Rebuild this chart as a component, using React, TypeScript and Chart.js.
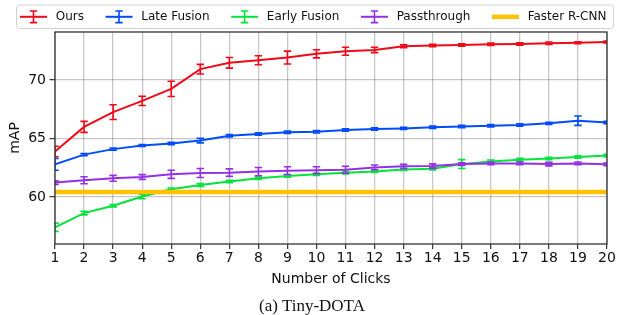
import React, { useEffect, useRef } from 'react';
import { Chart, registerables } from 'chart.js';

Chart.register(...registerables);

const clicks = [1, 2, 3, 4, 5, 6, 7, 8, 9, 10, 11, 12, 13, 14, 15, 16, 17, 18, 19, 20];

const ours = [63.9, 66.0, 67.26, 68.22, 69.24, 70.93, 71.47, 71.69, 71.92, 72.24, 72.46, 72.57, 72.88, 72.94, 72.99, 73.05, 73.08, 73.14, 73.19, 73.25];
const oursErr = [0.45, 0.47, 0.63, 0.4, 0.65, 0.41, 0.45, 0.38, 0.55, 0.35, 0.34, 0.23, 0.12, 0.1, 0.1, 0.1, 0.1, 0.1, 0.08, 0.08];

const lateFusion = [62.8, 63.63, 64.1, 64.41, 64.58, 64.83, 65.25, 65.39, 65.54, 65.58, 65.73, 65.82, 65.87, 65.96, 66.04, 66.1, 66.16, 66.3, 66.53, 66.38];
const lateErr = [0.5, 0.1, 0.1, 0.08, 0.1, 0.2, 0.1, 0.1, 0.1, 0.1, 0.1, 0.1, 0.1, 0.1, 0.1, 0.1, 0.1, 0.1, 0.4, 0.1];

const earlyFusion = [57.43, 58.64, 59.27, 60.06, 60.68, 61.04, 61.33, 61.61, 61.81, 61.95, 62.09, 62.2, 62.37, 62.43, 62.82, 63.05, 63.19, 63.3, 63.42, 63.56];
const earlyErr = [0.35, 0.15, 0.1, 0.2, 0.1, 0.12, 0.1, 0.1, 0.1, 0.1, 0.1, 0.1, 0.1, 0.1, 0.38, 0.12, 0.12, 0.1, 0.1, 0.1];

const passthrough = [61.24, 61.44, 61.61, 61.72, 61.95, 62.06, 62.09, 62.18, 62.26, 62.3, 62.34, 62.54, 62.63, 62.66, 62.82, 62.88, 62.88, 62.82, 62.88, 62.8];
const passErr = [0.15, 0.3, 0.25, 0.2, 0.35, 0.38, 0.32, 0.35, 0.33, 0.3, 0.3, 0.2, 0.18, 0.18, 0.12, 0.12, 0.12, 0.15, 0.12, 0.12];

const baseline = 60.45;

const seriesLabels = ['Ours', 'Late Fusion', 'Early Fusion', 'Passthrough', 'Faster R-CNN'];
const seriesColors = ['rgb(240,10,25)', 'rgb(0,75,255)', 'rgb(0,228,60)', 'rgb(148,48,230)', 'rgb(255,194,0)'];

const FONT = "'DejaVu Sans', sans-serif";

const errorBarPlugin = {
  id: 'errorBars',
  afterDatasetDraw(chart: any, args: any) {
    const ds = chart.data.datasets[args.index] as any;
    if (!ds.errors) return;
    const ctx = chart.ctx;
    const xs = chart.scales.x;
    const ys = chart.scales.y;
    const a = chart.chartArea;
    ctx.save();
    ctx.beginPath();
    ctx.rect(a.left, a.top, a.right - a.left, a.bottom - a.top);
    ctx.clip();
    ctx.strokeStyle = ds.borderColor;
    ctx.lineWidth = 1.6;
    ds.data.forEach((p: any, i: number) => {
      const e = ds.errors[i];
      const px = xs.getPixelForValue(p.x);
      const y1 = ys.getPixelForValue(p.y - e);
      const y2 = ys.getPixelForValue(p.y + e);
      ctx.beginPath();
      ctx.moveTo(px, y1);
      ctx.lineTo(px, y2);
      ctx.moveTo(px - 3.7, y1);
      ctx.lineTo(px + 3.7, y1);
      ctx.moveTo(px - 3.7, y2);
      ctx.lineTo(px + 3.7, y2);
      ctx.stroke();
    });
    ctx.restore();
  },
};

const framePlugin = {
  id: 'frameAndLegend',
  afterDraw(chart: any) {
    const ctx = chart.ctx;
    const a = chart.chartArea;
    ctx.save();
    ctx.strokeStyle = '#333';
    ctx.lineWidth = 1.3;
    ctx.strokeRect(a.left, a.top, a.right - a.left, a.bottom - a.top);

    // legend
    const bx = 16.5, by = 5, bw = 597, bh = 23.5;
    ctx.fillStyle = 'rgba(255,255,255,0.85)';
    ctx.strokeStyle = '#d2d2d2';
    ctx.lineWidth = 1;
    ctx.beginPath();
    (ctx as any).roundRect(bx, by, bw, bh, 3);
    ctx.fill();
    ctx.stroke();

    ctx.font = `12px ${FONT}`;
    ctx.textBaseline = 'middle';
    ctx.textAlign = 'left';
    const cy = 16.8;
    let x = 20;
    seriesLabels.forEach((label, i) => {
      const col = seriesColors[i];
      ctx.strokeStyle = col;
      if (i === 4) {
        ctx.lineWidth = 4.5;
        ctx.beginPath();
        ctx.moveTo(x, cy);
        ctx.lineTo(x + 27, cy);
        ctx.stroke();
      } else {
        ctx.lineWidth = 2;
        ctx.beginPath();
        ctx.moveTo(x, cy);
        ctx.lineTo(x + 27, cy);
        ctx.stroke();
        ctx.lineWidth = 1.6;
        const mx = x + 13.5;
        ctx.beginPath();
        ctx.moveTo(mx, cy - 5.8);
        ctx.lineTo(mx, cy + 5.8);
        ctx.moveTo(mx - 3.7, cy - 5.8);
        ctx.lineTo(mx + 3.7, cy - 5.8);
        ctx.moveTo(mx - 3.7, cy + 5.8);
        ctx.lineTo(mx + 3.7, cy + 5.8);
        ctx.stroke();
      }
      ctx.fillStyle = '#111';
      const tx = x + 27 + 8.7;
      ctx.fillText(label, tx, cy);
      x = tx + ctx.measureText(label).width + 21.6;
    });
    ctx.restore();
  },
};

export default function App() {
  const ref = useRef<HTMLCanvasElement | null>(null);

  useEffect(() => {
    if (!ref.current) return;
    const mk = (vals: number[]) => vals.map((v, i) => ({ x: clicks[i], y: v }));
    const lineDs = (i: number, vals: number[], errs: number[], order: number) => ({
      label: seriesLabels[i],
      data: mk(vals),
      errors: errs,
      borderColor: seriesColors[i],
      backgroundColor: seriesColors[i],
      borderWidth: 2,
      pointRadius: 0,
      tension: 0,
      order,
    });
    const chart = new Chart(ref.current, {
      type: 'line',
      data: {
        datasets: [
          lineDs(0, ours, oursErr, 5),
          lineDs(1, lateFusion, lateErr, 4),
          lineDs(2, earlyFusion, earlyErr, 3),
          lineDs(3, passthrough, passErr, 2),
          {
            label: seriesLabels[4],
            data: [
              { x: clicks[0], y: baseline },
              { x: clicks[clicks.length - 1], y: baseline },
            ],
            borderColor: seriesColors[4],
            backgroundColor: seriesColors[4],
            borderWidth: 4.5,
            pointRadius: 0,
            order: 1,
          } as any,
        ] as any,
      },
      options: {
        animation: false,
        responsive: false,
        devicePixelRatio: 1,
        layout: { padding: { top: 32, right: 11, left: 0, bottom: 0 } },
        plugins: { legend: { display: false }, tooltip: { enabled: false } },
        scales: {
          x: {
            type: 'linear',
            min: 1,
            max: 20,
            afterFit: (s: any) => {
              s.height = 46;
            },
            ticks: {
              stepSize: 1,
              autoSkip: false,
              color: '#111',
              font: { family: FONT, size: 14 },
              padding: 1,
            },
            grid: {
              color: 'rgba(0,0,0,0.22)',
              lineWidth: 1.3,
              tickLength: 5,
              tickColor: '#333',
              tickWidth: 1.2,
            },
            border: { display: false },
            title: {
              display: true,
              text: 'Number of Clicks',
              color: '#111',
              font: { family: FONT, size: 14 },
              padding: { top: 0, bottom: 2 },
            },
          },
          y: {
            type: 'linear',
            min: 56.0,
            max: 74.1,
            afterFit: (s: any) => {
              s.width = 55;
            },
            ticks: {
              stepSize: 5,
              includeBounds: false,
              color: '#111',
              font: { family: FONT, size: 14 },
              padding: 3.5,
            },
            grid: {
              color: 'rgba(0,0,0,0.22)',
              lineWidth: 1.3,
              tickLength: 5.5,
              tickColor: '#333',
              tickWidth: 1.2,
            },
            border: { display: false },
            title: {
              display: true,
              text: 'mAP',
              color: '#111',
              font: { family: FONT, size: 14 },
              padding: { top: 7, bottom: 0 },
            },
          },
        },
      } as any,
      plugins: [errorBarPlugin, framePlugin],
    });
    return () => chart.destroy();
  }, []);

  return (
    <div
      style={{
        position: 'fixed',
        left: 0,
        top: 0,
        width: 618,
        height: 315,
        background: '#fff',
      }}
    >
      <canvas ref={ref} width={618} height={290} style={{ display: 'block', width: 618, height: 290 }} />
      <div
        style={{
          position: 'absolute',
          left: 0,
          width: 624,
          top: 296,
          textAlign: 'center',
          fontFamily: "'Liberation Serif', 'Times New Roman', serif",
          fontSize: 17,
          lineHeight: '20px',
          color: '#111',
        }}
      >
        (a) Tiny-DOTA
      </div>
    </div>
  );
}
